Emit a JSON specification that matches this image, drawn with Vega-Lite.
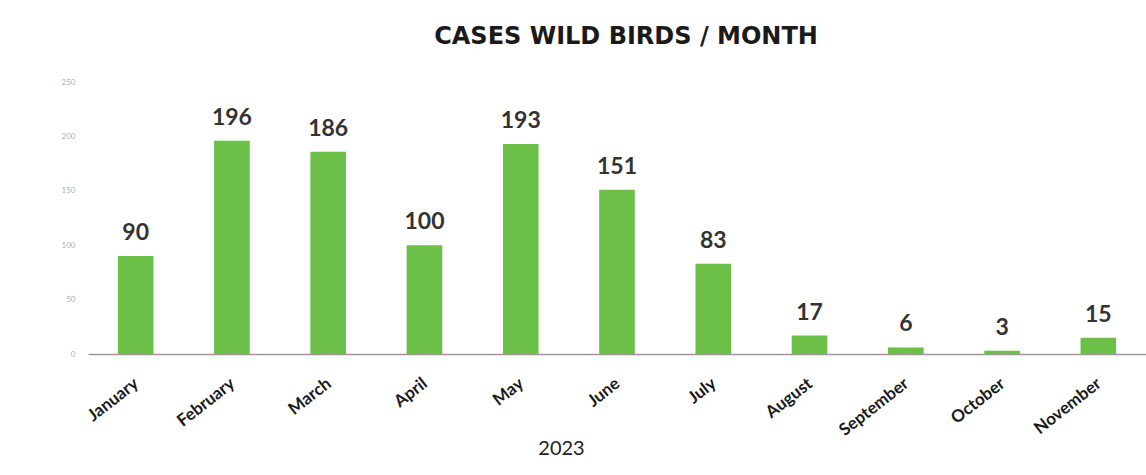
{
  "$schema": "https://vega.github.io/schema/vega-lite/v6.json",
  "width": 1058,
  "height": 272,
  "autosize": {"type": "none"},
  "padding": {"left": 88, "top": 82, "right": 0, "bottom": 121},
  "background": "white",
  "config": {"view": {"stroke": null}, "font": "Lato"},
  "title": {
    "text": "CASES WILD BIRDS / MONTH",
    "font": "DejaVu Sans",
    "fontSize": 24,
    "fontWeight": "bold",
    "color": "#1a1a1a",
    "offset": 29,
    "dx": 9
  },
  "data": {
    "values": [
      {"month": "January", "cases": 90},
      {"month": "February", "cases": 196},
      {"month": "March", "cases": 186},
      {"month": "April", "cases": 100},
      {"month": "May", "cases": 193},
      {"month": "June", "cases": 151},
      {"month": "July", "cases": 83},
      {"month": "August", "cases": 17},
      {"month": "September", "cases": 6},
      {"month": "October", "cases": 3},
      {"month": "November", "cases": 15}
    ]
  },
  "encoding": {
    "x": {
      "field": "month",
      "type": "nominal",
      "sort": null,
      "scale": {"paddingInner": 0.63, "paddingOuter": 0.31},
      "axis": {
        "title": "2023",
        "titleFont": "Lato",
        "titleFontSize": 20,
        "titleFontWeight": "normal",
        "titleColor": "#222222",
        "titleX": 473,
        "titleY": 84,
        "titleBaseline": "top",
        "labelAngle": -38,
        "labelFont": "Lato",
        "labelFontSize": 17,
        "labelFontWeight": "bold",
        "labelColor": "#1a1a1a",
        "labelPadding": 21,
        "labelOffset": -4,
        "ticks": false,
        "domainColor": "#a09696",
        "domainWidth": 1.5,
        "grid": false
      }
    },
    "y": {
      "field": "cases",
      "type": "quantitative",
      "scale": {"domain": [0, 250]},
      "axis": {
        "title": null,
        "values": [0, 50, 100, 150, 200, 250],
        "labelFontSize": 8,
        "labelColor": "#b0b0b0",
        "labelPadding": 13,
        "domain": false,
        "ticks": false,
        "grid": false
      }
    }
  },
  "layer": [
    {"mark": {"type": "bar", "color": "#6cbf47"}},
    {
      "mark": {
        "type": "text",
        "baseline": "bottom",
        "dy": -11,
        "font": "Lato",
        "fontSize": 23,
        "fontWeight": "bold",
        "color": "#333333"
      },
      "encoding": {"text": {"field": "cases", "type": "quantitative"}}
    }
  ]
}
